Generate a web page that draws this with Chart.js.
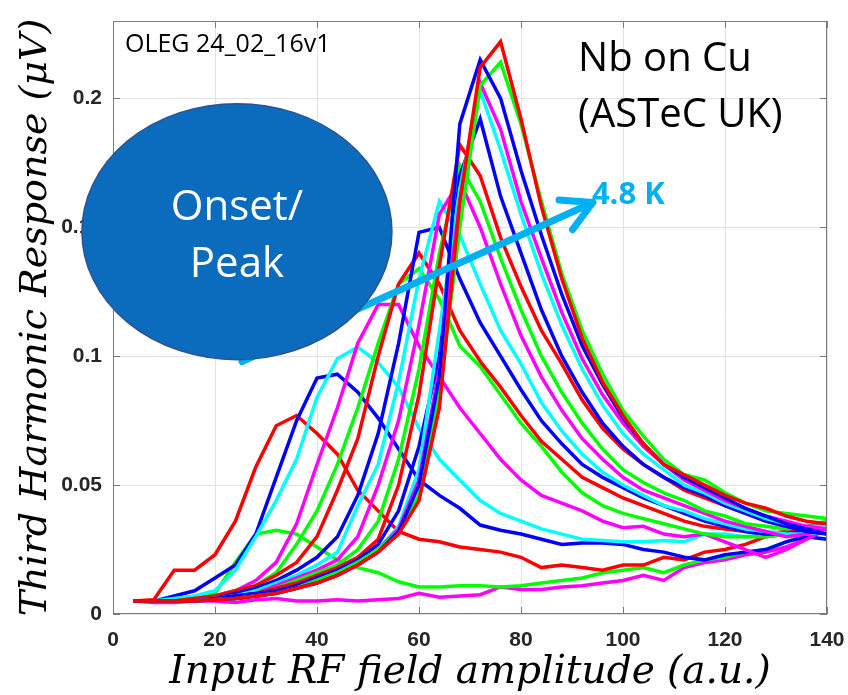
<!DOCTYPE html>
<html>
<head>
<meta charset="utf-8">
<title>Third harmonic response</title>
<script src="https://cdn.jsdelivr.net/npm/chart.js@4.4.0/dist/chart.umd.min.js"></script>
<style>
  html, body { margin: 0; padding: 0; background: #fff; }
  #wrap { width: 848px; height: 695px; }
</style>
</head>
<body>
<div id="wrap"><canvas id="chart" width="848" height="695"></canvas></div>
<script>
// Input RF field amplitude (a.u.) sampled every 4 units
const xValues = [4, 8, 12, 16, 20, 24, 28, 32, 36, 40, 44, 48, 52, 56, 60, 64, 68, 72, 76, 80,
                 84, 88, 92, 96, 100, 104, 108, 112, 116, 120, 124, 128, 132, 136, 140];

// Third harmonic response (uV), one array per temperature sweep
const curve01 = [0.005, 0.0045, 0.0045, 0.005, 0.005, 0.0045, 0.0055, 0.006, 0.005, 0.005,
                 0.0055, 0.005, 0.0055, 0.006, 0.008, 0.0065, 0.007, 0.0075, 0.0105, 0.0095,
                 0.0095, 0.0105, 0.011, 0.012, 0.013, 0.015, 0.013, 0.018, 0.02, 0.021,
                 0.023, 0.024, 0.026, 0.029, 0.033];
const curve02 = [0.005, 0.005, 0.005, 0.0055, 0.008, 0.02, 0.031, 0.0325, 0.031, 0.026,
                 0.021, 0.018, 0.016, 0.0125, 0.0105, 0.0105, 0.011, 0.011, 0.0105, 0.011,
                 0.012, 0.013, 0.014, 0.016, 0.017, 0.018, 0.016, 0.019, 0.021, 0.022,
                 0.024, 0.025, 0.028, 0.031, 0.035];
const curve03 = [0.005, 0.0055, 0.017, 0.017, 0.023, 0.036, 0.057, 0.073, 0.077, 0.07,
                 0.062, 0.048, 0.04, 0.032, 0.029, 0.028, 0.026, 0.025, 0.024, 0.022,
                 0.018, 0.019, 0.018, 0.017, 0.019, 0.019, 0.022, 0.021, 0.024, 0.025,
                 0.027, 0.03, 0.031, 0.033, 0.035];
const curve04 = [0.005, 0.005, 0.007, 0.009, 0.014, 0.019, 0.031, 0.053, 0.075, 0.0915,
                 0.093, 0.086, 0.076, 0.064, 0.052, 0.046, 0.041, 0.0345, 0.0325, 0.031,
                 0.029, 0.027, 0.0275, 0.0275, 0.027, 0.025, 0.024, 0.022, 0.021, 0.023,
                 0.024, 0.025, 0.028, 0.03, 0.029];
const curve05 = [0.005, 0.005, 0.006, 0.007, 0.009, 0.017, 0.03, 0.044, 0.06, 0.084,
                 0.099, 0.1035, 0.0975, 0.088, 0.072, 0.06, 0.052, 0.044, 0.039, 0.036,
                 0.033, 0.031, 0.029, 0.0285, 0.028, 0.028, 0.0285, 0.028, 0.031, 0.031,
                 0.03, 0.031, 0.032, 0.033, 0.034];
const curve06 = [0.005, 0.005, 0.005, 0.006, 0.007, 0.009, 0.013, 0.02, 0.035, 0.058,
                 0.08, 0.105, 0.12, 0.12, 0.104, 0.092, 0.08, 0.07, 0.06, 0.052,
                 0.046, 0.043, 0.04, 0.036, 0.0335, 0.034, 0.031, 0.03, 0.031, 0.028,
                 0.025, 0.022, 0.025, 0.029, 0.033];
const curve07 = [0.005, 0.005, 0.005, 0.006, 0.007, 0.009, 0.011, 0.016, 0.027, 0.04,
                 0.058, 0.08, 0.105, 0.128, 0.134, 0.122, 0.104, 0.096, 0.085, 0.074,
                 0.065, 0.055, 0.047, 0.042, 0.039, 0.037, 0.035, 0.033, 0.031, 0.03,
                 0.03, 0.03, 0.031, 0.033, 0.035];
const curve08 = [0.005, 0.005, 0.005, 0.006, 0.007, 0.009, 0.011, 0.015, 0.02, 0.03,
                 0.048, 0.068, 0.1, 0.128, 0.14, 0.128, 0.11, 0.098, 0.088, 0.077,
                 0.067, 0.06, 0.053, 0.049, 0.045, 0.042, 0.039, 0.036, 0.034, 0.033,
                 0.032, 0.031, 0.032, 0.033, 0.034];
const curve09 = [0.005, 0.005, 0.005, 0.005, 0.006, 0.008, 0.01, 0.013, 0.017, 0.022,
                 0.03, 0.046, 0.07, 0.105, 0.148, 0.15, 0.13, 0.113, 0.1, 0.087,
                 0.075, 0.066, 0.058, 0.053, 0.049, 0.045, 0.042, 0.039, 0.036, 0.034,
                 0.032, 0.031, 0.031, 0.032, 0.033];
const curve10 = [0.005, 0.005, 0.005, 0.005, 0.006, 0.007, 0.009, 0.012, 0.015, 0.019,
                 0.024, 0.042, 0.058, 0.09, 0.13, 0.16, 0.147, 0.128, 0.11, 0.097,
                 0.082, 0.071, 0.062, 0.055, 0.05, 0.046, 0.042, 0.04, 0.037, 0.035,
                 0.033, 0.032, 0.031, 0.031, 0.032];
const curve11 = [0.005, 0.005, 0.005, 0.005, 0.006, 0.007, 0.008, 0.011, 0.014, 0.017,
                 0.021, 0.03, 0.05, 0.075, 0.112, 0.155, 0.168, 0.15, 0.128, 0.108,
                 0.092, 0.079, 0.068, 0.06, 0.053, 0.048, 0.045, 0.042, 0.039, 0.036,
                 0.034, 0.032, 0.03, 0.031, 0.033];
const curve12 = [0.005, 0.005, 0.005, 0.005, 0.006, 0.007, 0.008, 0.01, 0.013, 0.016,
                 0.019, 0.025, 0.036, 0.06, 0.095, 0.14, 0.174, 0.16, 0.138, 0.118,
                 0.1, 0.086, 0.074, 0.064, 0.056, 0.051, 0.047, 0.044, 0.04, 0.038,
                 0.035, 0.034, 0.033, 0.034, 0.036];
const curve13 = [0.005, 0.005, 0.005, 0.005, 0.006, 0.007, 0.008, 0.01, 0.012, 0.015,
                 0.018, 0.022, 0.029, 0.05, 0.085, 0.135, 0.182, 0.17, 0.146, 0.127,
                 0.11, 0.097, 0.083, 0.072, 0.064, 0.058, 0.053, 0.048, 0.045, 0.042,
                 0.039, 0.036, 0.034, 0.034, 0.035];
const curve14 = [0.005, 0.005, 0.005, 0.005, 0.006, 0.007, 0.008, 0.009, 0.011, 0.014,
                 0.017, 0.021, 0.027, 0.04, 0.065, 0.1, 0.17, 0.192, 0.162, 0.14,
                 0.118, 0.1, 0.086, 0.074, 0.065, 0.058, 0.053, 0.049, 0.046, 0.042,
                 0.039, 0.036, 0.034, 0.032, 0.031];
const curve15 = [0.005, 0.005, 0.005, 0.005, 0.0055, 0.006, 0.007, 0.008, 0.01, 0.013,
                 0.016, 0.02, 0.025, 0.034, 0.056, 0.11, 0.165, 0.203, 0.18, 0.155,
                 0.132, 0.112, 0.095, 0.081, 0.07, 0.062, 0.056, 0.05, 0.047, 0.043,
                 0.04, 0.037, 0.035, 0.034, 0.034];
const curve16 = [0.005, 0.005, 0.005, 0.005, 0.0055, 0.006, 0.007, 0.008, 0.01, 0.013,
                 0.016, 0.02, 0.025, 0.033, 0.052, 0.095, 0.16, 0.206, 0.188, 0.16,
                 0.138, 0.117, 0.099, 0.085, 0.074, 0.065, 0.058, 0.052, 0.048, 0.044,
                 0.041, 0.038, 0.036, 0.034, 0.033];
const curve17 = [0.005, 0.005, 0.005, 0.005, 0.0055, 0.006, 0.007, 0.008, 0.01, 0.013,
                 0.016, 0.02, 0.025, 0.032, 0.046, 0.085, 0.15, 0.205, 0.214, 0.19,
                 0.16, 0.132, 0.11, 0.093, 0.079, 0.069, 0.06, 0.054, 0.052, 0.047,
                 0.043, 0.04, 0.039, 0.038, 0.037];
const curve18 = [0.005, 0.005, 0.005, 0.005, 0.0055, 0.006, 0.007, 0.008, 0.01, 0.012,
                 0.015, 0.019, 0.024, 0.032, 0.05, 0.092, 0.19, 0.215, 0.2, 0.172,
                 0.147, 0.124, 0.104, 0.089, 0.076, 0.066, 0.058, 0.053, 0.049, 0.045,
                 0.041, 0.038, 0.035, 0.033, 0.031];
const curve19 = [0.005, 0.005, 0.005, 0.005, 0.0055, 0.006, 0.007, 0.008, 0.01, 0.012,
                 0.015, 0.019, 0.024, 0.031, 0.044, 0.08, 0.16, 0.212, 0.222, 0.192,
                 0.158, 0.13, 0.107, 0.09, 0.077, 0.066, 0.058, 0.054, 0.05, 0.046,
                 0.043, 0.041, 0.038, 0.036, 0.035];

const allCurves = [curve01, curve02, curve03, curve04, curve05, curve06, curve07, curve08, curve09, curve10,
                   curve11, curve12, curve13, curve14, curve15, curve16, curve17, curve18, curve19];
const curveColors = ['#ff00ff', '#00ff00', '#ff0000', '#0000ff', '#00ffff',
                     '#ff00ff', '#00ff00', '#ff0000', '#0000ff', '#00ffff',
                     '#ff00ff', '#00ff00', '#ff0000', '#0000ff', '#00ffff',
                     '#ff00ff', '#00ff00', '#0000ff', '#ff0000'];

// Axis ticks
const xTicks = [0, 20, 40, 60, 80, 100, 120, 140];
const yTicks = [0, 0.05, 0.1, 0.15, 0.2];

// Annotation anchors in data units
const ovalCenter = [24.3, 0.1483];
const arrowFrom = [25.3, 0.0979];
const arrowTo = [94.1, 0.1596];

const datasets = allCurves.map((vals, i) => ({
    label: 'curve ' + (i + 1),
    data: vals.map((v, j) => ({ x: xValues[j], y: v })),
    borderColor: curveColors[i],
    borderWidth: 3.5,
    pointRadius: 0,
    tension: 0,
    fill: false,
    order: allCurves.length - i
}));

// Box round the plot with inward ticks, MATLAB style
const axesBox = {
    id: 'axesBox',
    afterDatasetsDraw(chart) {
        const { ctx, chartArea: a, scales: { x, y } } = chart;
        ctx.save();
        ctx.strokeStyle = '#7a7a7a';
        ctx.lineWidth = 1;
        ctx.strokeRect(a.left + 0.5, a.top + 0.5, a.right - a.left - 1, a.bottom - a.top - 1);
        ctx.beginPath();
        xTicks.forEach(v => {
            const px = Math.round(x.getPixelForValue(v)) + 0.5;
            ctx.moveTo(px, a.bottom); ctx.lineTo(px, a.bottom - 7);
            ctx.moveTo(px, a.top); ctx.lineTo(px, a.top + 7);
        });
        yTicks.forEach(v => {
            const py = Math.round(y.getPixelForValue(v)) + 0.5;
            ctx.moveTo(a.left, py); ctx.lineTo(a.left + 7, py);
            ctx.moveTo(a.right, py); ctx.lineTo(a.right - 7, py);
        });
        ctx.stroke();
        ctx.restore();
    }
};

// Slide annotations: arrow, oval and labels
const notes = {
    id: 'notes',
    afterDraw(chart) {
        const { ctx, scales: { x, y } } = chart;
        const px = v => x.getPixelForValue(v);
        const py = v => y.getPixelForValue(v);
        ctx.save();

        // arrow (sits behind the oval)
        const x0 = px(arrowFrom[0]), y0 = py(arrowFrom[1]);
        const x1 = px(arrowTo[0]), y1 = py(arrowTo[1]);
        const ang = Math.atan2(y1 - y0, x1 - x0);
        ctx.strokeStyle = '#00b0f0';
        ctx.lineWidth = 7;
        ctx.lineCap = 'round';
        ctx.lineJoin = 'round';
        ctx.beginPath();
        ctx.moveTo(x0, y0);
        ctx.lineTo(x1, y1);
        [-0.5, 0.5].forEach(d => {
            ctx.moveTo(x1, y1);
            ctx.lineTo(x1 - 34 * Math.cos(ang + d), y1 - 34 * Math.sin(ang + d));
        });
        ctx.stroke();

        // oval
        ctx.beginPath();
        ctx.ellipse(px(ovalCenter[0]), py(ovalCenter[1]), 155, 128, 0, 0, 2 * Math.PI);
        ctx.fillStyle = '#0b6cbd';
        ctx.fill();
        ctx.strokeStyle = '#2f528f';
        ctx.lineWidth = 1.5;
        ctx.stroke();

        ctx.fillStyle = '#ffffff';
        ctx.font = '42px "Open Sans"';
        ctx.textAlign = 'center';
        ctx.textBaseline = 'alphabetic';
        ctx.fillText('Onset/', px(ovalCenter[0]), py(0.153));
        ctx.fillText('Peak', px(ovalCenter[0]), py(0.1309));

        ctx.textAlign = 'left';
        ctx.fillStyle = '#000000';
        ctx.font = '25px "Open Sans"';
        ctx.fillText('OLEG 24_02_16v1', px(2.35), py(0.2179));

        ctx.font = '40px "Open Sans"';
        ctx.fillText('Nb on Cu', px(91.2), py(0.2105));
        ctx.fillText('(ASTeC UK)', px(91.2), py(0.1887));

        ctx.fillStyle = '#00b0f0';
        ctx.font = 'bold 31px "Open Sans"';
        ctx.fillText('4.8 K', px(93.9), py(0.159));

        ctx.restore();
    }
};

const tickFont = { family: '"Liberation Sans", Arial, sans-serif', size: 21, weight: 'bold' };
const xTitleFont = { family: '"DejaVu Serif", serif', size: 39, style: 'italic', lineHeight: 1 };
const yTitleFont = { family: '"DejaVu Serif", serif', size: 38, style: 'italic', lineHeight: 1 };

const ctx = document.getElementById('chart').getContext('2d');
const chart = new Chart(ctx, {
    type: 'line',
    data: { datasets },
    options: {
        responsive: false,
        animation: false,
        layout: { padding: { left: 0, top: 21, right: 21, bottom: 0 } },
        plugins: {
            legend: { display: false },
            tooltip: { enabled: false }
        },
        scales: {
            x: {
                type: 'linear',
                min: 0,
                max: 140,
                afterBuildTicks: scale => { scale.ticks = xTicks.map(v => ({ value: v })); },
                afterFit: scale => {
                    scale.height = 81;
                    scale.paddingLeft = 0;
                    scale.paddingRight = 0;
                },
                ticks: { font: tickFont, color: '#262626', padding: 14, maxRotation: 0 },
                grid: { color: '#e3e3e3', drawTicks: false },
                border: { display: false },
                title: {
                    display: true,
                    text: 'Input RF field amplitude (a.u.)',
                    font: xTitleFont,
                    color: '#000000',
                    padding: { top: 0, bottom: 3 }
                }
            },
            y: {
                type: 'linear',
                min: 0,
                max: 0.23,
                afterBuildTicks: scale => { scale.ticks = yTicks.map(v => ({ value: v })); },
                afterFit: scale => {
                    scale.width = 113;
                    scale.paddingTop = 0;
                    scale.paddingBottom = 0;
                },
                ticks: {
                    font: tickFont,
                    color: '#262626',
                    padding: 11,
                    callback: v => String(+v.toFixed(2))
                },
                grid: { color: '#e3e3e3', drawTicks: false },
                border: { display: false },
                title: {
                    display: true,
                    text: 'Third Harmonic Response (\u03BCV)',
                    font: yTitleFont,
                    color: '#000000',
                    padding: { top: 17, bottom: 0 }
                }
            }
        }
    },
    plugins: [axesBox, notes]
});
</script>
</body>
</html>
